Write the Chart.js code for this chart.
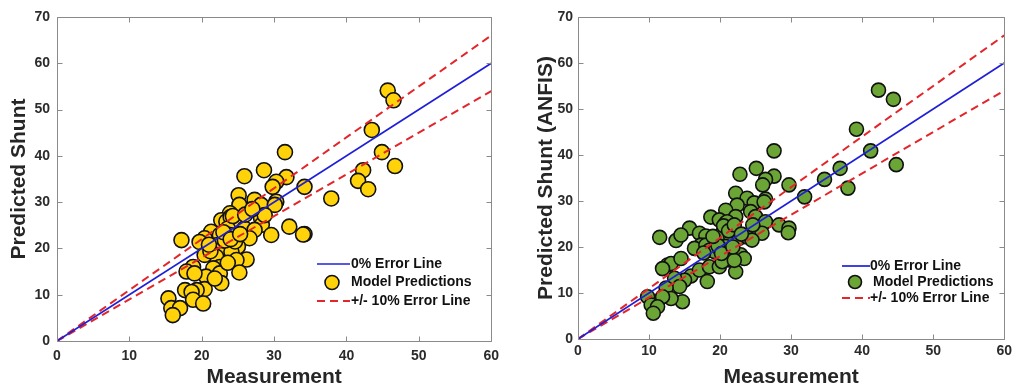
<!DOCTYPE html>
<html>
<head>
<meta charset="utf-8">
<script src="https://cdn.jsdelivr.net/npm/chart.js@4/dist/chart.umd.min.js"></script>
<style>
  html, body { margin: 0; padding: 0; background: #ffffff; width: 1016px; height: 388px; overflow: hidden; }
  canvas { position: absolute; top: 0; }
  #shuntModel { left: 0; }
  #shuntAnfis { left: 510px; }
</style>
</head>
<body>
<canvas id="shuntModel" width="506" height="388"></canvas>
<canvas id="shuntAnfis" width="506" height="388"></canvas>
<script>
// ---- axis ticks ----
const xTicks = [0, 10, 20, 30, 40, 50, 60];
const yTicks = [0, 10, 20, 30, 40, 50, 60, 70];

// ---- reference lines (measurement -> predicted) ----
const refX      = [0, 60];
const zeroError = [0, 60];
const plus10    = [0, 66];
const minus10   = [0, 54];

// ---- model predictions (left panel) ----
const modelMeasured = [
  45.7, 46.5, 43.5, 44.9, 46.7, 42.3, 41.6, 43.0, 37.9,
  31.5, 28.6, 25.9, 31.7, 30.3, 29.8, 34.2,
  25.1, 25.2, 27.3, 28.2, 30.3, 30.1, 28.2, 28.3, 28.7,
  23.9, 22.7, 23.4, 25.2, 25.1, 24.0,
  21.3, 20.4, 19.7, 17.2, 23.6, 23.9, 22.5, 25.9, 27.3, 26.6, 29.6, 32.1, 34.2, 34.0,
  22.0, 22.9, 25.0, 22.7, 24.1, 22.0, 20.4, 26.2, 24.8, 22.5, 21.6, 18.8, 17.9, 25.2,
  20.6, 22.5, 22.7, 20.4, 19.3, 17.7, 18.6, 18.8, 20.2, 15.4, 15.8, 17.0, 16.0,
  21.8, 19.0, 24.6, 23.2, 21.2,
  23.0, 24.3, 26.0, 21.0, 23.6, 24.0, 27.0, 25.3
];
const modelPredicted = [
  54.1, 52.0, 45.6, 40.8, 37.8, 36.9, 34.6, 32.8, 30.8,
  40.8, 36.9, 35.6, 35.4, 34.4, 33.3, 33.3,
  31.5, 29.4, 30.5, 29.4, 30.1, 29.4, 26.5, 25.1, 27.2,
  27.6, 26.1, 25.8, 26.1, 24.7, 26.8,
  23.6, 22.2, 21.4, 21.8, 24.3, 22.9, 22.9, 24.3, 24.0, 22.2, 22.9, 24.7, 23.1, 23.0,
  20.7, 20.0, 20.4, 18.6, 19.3, 18.2, 18.6, 17.6, 17.5, 16.0, 15.7, 16.0, 15.0, 14.8,
  13.9, 14.6, 12.5, 11.2, 11.0, 11.0, 10.6, 8.9, 8.1, 9.2, 7.1, 7.1, 5.6,
  13.5, 14.6, 21.5, 21.7, 19.4,
  23.5, 27.0, 27.3, 20.8, 16.9, 22.0, 28.5, 23.1
];

// ---- ANFIS predictions (right panel) ----
const anfisMeasured = [
  42.3, 44.4, 39.2, 41.2, 44.8, 36.9, 38.0, 34.7, 31.9,
  27.6, 25.1, 22.8, 27.6, 26.4, 26.0, 29.7,
  22.2, 23.8, 24.8, 26.4, 22.4, 26.2,
  20.8, 18.7, 22.2, 19.9, 20.8, 21.5, 24.3, 25.0, 26.4, 15.7, 28.3, 29.7, 29.6, 25.9,
  11.5, 13.8, 14.5, 17.1, 18.0, 17.3, 16.4, 20.3, 21.5, 22.7, 18.0, 18.5, 19.2, 19.9, 20.8,
  22.9, 23.4, 21.3, 23.8, 24.5, 21.0, 20.5,
  12.6, 13.1, 11.9, 14.5, 15.9, 15.0, 13.6, 17.1, 18.5, 19.9, 20.3, 22.2, 18.2, 14.3,
  12.4, 14.7, 13.1, 11.9, 9.8, 10.3, 11.2, 10.6, 22.0, 19.7,
  21.2, 22.0, 19.0, 17.7, 20.2, 23.0, 21.8, 24.6
];
const anfisPredicted = [
  54.1, 52.1, 45.6, 40.9, 37.9, 37.1, 32.8, 34.7, 30.9,
  40.9, 37.1, 35.8, 35.4, 34.7, 33.5, 33.5,
  31.7, 30.6, 29.6, 30.4, 29.1, 29.8,
  28.0, 26.5, 26.6, 25.9, 25.2, 24.4, 27.7, 26.6, 25.5, 24.1, 24.8, 24.1, 23.1, 23.0,
  22.1, 21.4, 22.6, 23.0, 22.4, 20.4, 19.7, 23.0, 22.2, 21.9, 20.4, 19.3, 19.0, 19.7, 20.1,
  18.3, 17.5, 17.2, 22.2, 21.5, 25.5, 24.6,
  16.1, 16.4, 15.3, 17.5, 13.7, 12.8, 13.2, 15.0, 15.7, 15.7, 16.8, 14.6, 12.5, 11.4,
  11.1, 8.1, 8.8, 9.2, 9.2, 7.4, 7.0, 5.6, 17.1, 20.3,
  23.5, 24.8, 22.3, 18.7, 18.6, 22.8, 20.0, 24.8
];

const FONT = '"Liberation Sans", Arial, Helvetica, sans-serif';

const pairs = (xs, ys) => xs.map((v, i) => ({ x: v, y: ys[i] }));

// Box around the plot area with inward tick marks on all four sides
const framePlugin = {
  id: 'frame',
  afterDatasetsDraw(chart) {
    const { ctx, chartArea: a, scales: { x, y } } = chart;
    const L = Math.round(a.left) + 0.5, R = Math.round(a.right) + 0.5;
    const T = Math.round(a.top) + 0.5, B = Math.round(a.bottom) + 0.5;
    ctx.save();
    ctx.strokeStyle = '#8a8a8a';
    ctx.lineWidth = 1;
    ctx.beginPath();
    ctx.rect(L, T, R - L, B - T);
    x.ticks.forEach(t => {
      const px = Math.round(x.getPixelForValue(t.value)) + 0.5;
      ctx.moveTo(px, B); ctx.lineTo(px, B - 5);
      ctx.moveTo(px, T); ctx.lineTo(px, T + 5);
    });
    y.ticks.forEach(t => {
      const py = Math.round(y.getPixelForValue(t.value)) + 0.5;
      ctx.moveTo(L, py); ctx.lineTo(L + 5, py);
      ctx.moveTo(R, py); ctx.lineTo(R - 5, py);
    });
    ctx.stroke();
    ctx.restore();
  }
};

// Legend drawn inside the plot, lower right
const insetLegend = {
  id: 'insetLegend',
  afterDraw(chart, args, o) {
    const { ctx } = chart;
    const ds = chart.data.datasets;
    ctx.save();
    ctx.font = 'bold 14px ' + FONT;
    ctx.textBaseline = 'middle';
    o.rows.forEach((row, i) => {
      const d = ds[row];
      const yy = o.y + i * o.step;
      if (d.showLine) {
        ctx.strokeStyle = d.borderColor;
        ctx.lineWidth = d.borderWidth;
        ctx.setLineDash(d.borderDash || []);
        ctx.beginPath();
        ctx.moveTo(o.lineStart, yy);
        ctx.lineTo(o.lineEnd, yy);
        ctx.stroke();
        ctx.setLineDash([]);
        ctx.fillStyle = '#111111';
        ctx.fillText(d.label, o.textX, yy);
      } else {
        ctx.fillStyle = d.backgroundColor;
        ctx.strokeStyle = d.borderColor;
        ctx.lineWidth = d.borderWidth;
        ctx.beginPath();
        ctx.arc(o.markerX, yy, o.markerR, 0, Math.PI * 2);
        ctx.fill();
        ctx.stroke();
        ctx.fillStyle = '#111111';
        ctx.fillText(d.label, o.textX + o.markerTextShift, yy);
      }
    });
    ctx.restore();
  }
};

function makeChart(id, cfg) {
  return new Chart(document.getElementById(id), {
    type: 'scatter',
    data: {
      datasets: [
        {
          label: '0% Error Line', data: pairs(refX, zeroError), showLine: true,
          borderColor: '#1f1fd8', borderWidth: 1.7, pointRadius: 0, order: 0
        },
        {
          label: 'Model Predictions', data: pairs(cfg.xs, cfg.ys), showLine: false,
          backgroundColor: cfg.fill, borderColor: '#111111', borderWidth: 1.6,
          pointRadius: cfg.radius, order: 2
        },
        {
          label: '+/- 10% Error Line', data: pairs(refX, plus10), showLine: true,
          borderColor: '#e3262a', borderWidth: 2, borderDash: [8, 5], pointRadius: 0, order: 1
        },
        {
          label: '+/- 10% Error Line', data: pairs(refX, minus10), showLine: true,
          borderColor: '#e3262a', borderWidth: 2, borderDash: [8, 5], pointRadius: 0, order: 1
        }
      ]
    },
    options: {
      responsive: false,
      animation: false,
      layout: { padding: { top: 17, right: cfg.padRight, bottom: 0, left: 0 } },
      plugins: {
        legend: { display: false },
        tooltip: { enabled: false },
        insetLegend: cfg.legend
      },
      scales: {
        x: {
          type: 'linear', min: 0, max: 60,
          afterBuildTicks: s => { s.ticks = xTicks.map(v => ({ value: v })); },
          afterFit: s => { s.height = cfg.xAxisHeight; },
          grid: { display: false, drawTicks: false },
          border: { display: false },
          ticks: { padding: cfg.xTickPad, color: '#2b2b2b', font: { family: FONT, size: 14, weight: 'bold' } },
          title: {
            display: true, text: 'Measurement', color: '#262626',
            font: { family: FONT, size: 21, weight: 'bold', lineHeight: 1 },
            padding: { top: 0, bottom: 0 }
          }
        },
        y: {
          type: 'linear', min: 0, max: 70,
          afterBuildTicks: s => { s.ticks = yTicks.map(v => ({ value: v })); },
          afterFit: s => { s.width = cfg.yAxisWidth; },
          grid: { display: false, drawTicks: false },
          border: { display: false },
          ticks: { padding: cfg.yTickPad, color: '#2b2b2b', font: { family: FONT, size: 14, weight: 'bold' } },
          title: {
            display: true, text: cfg.yTitle, color: '#262626',
            font: { family: FONT, size: 21, weight: 'bold', lineHeight: 1 },
            padding: { top: cfg.yTitlePad, bottom: 0 }
          }
        }
      }
    },
    plugins: [framePlugin, insetLegend]
  });
}

makeChart('shuntModel', {
  xs: modelMeasured, ys: modelPredicted, fill: '#ffd20a', radius: 7.5,
  yTitle: 'Predicted Shunt', padRight: 14, xAxisHeight: 47, yAxisWidth: 57,
  xTickPad: 7, yTickPad: 7, yTitlePad: 9,
  legend: { rows: [0, 1, 2], y: 264, step: 18.5, lineStart: 317, lineEnd: 350, textX: 351,
            markerX: 332, markerR: 7, markerTextShift: 0 }
});

makeChart('shuntAnfis', {
  xs: anfisMeasured, ys: anfisPredicted, fill: '#6aa536', radius: 7,
  yTitle: 'Predicted Shunt (ANFIS)', padRight: 9, xAxisHeight: 49, yAxisWidth: 68,
  xTickPad: 4, yTickPad: 5, yTitlePad: 26,
  legend: { rows: [0, 1, 2], y: 266, step: 16, lineStart: 332, lineEnd: 360, textX: 360,
            markerX: 345, markerR: 6.5, markerTextShift: 3 }
});
</script>
</body>
</html>
